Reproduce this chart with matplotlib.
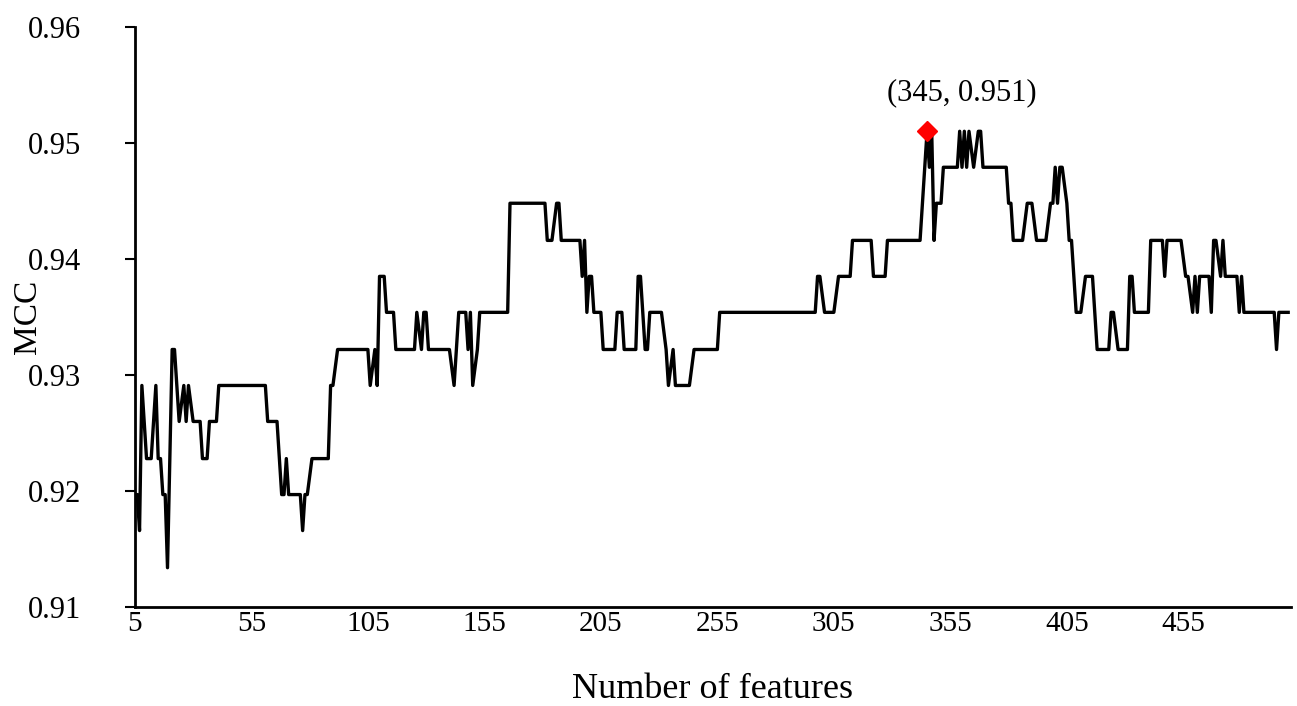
import matplotlib as mpl
mpl.use('Agg')
import matplotlib.pyplot as plt
import numpy as np

# MCC levels seen in the curve
m0, m1, m2, m3 = 0.9134, 0.9166, 0.9197, 0.9228
m4, m5, m6, m7 = 0.9260, 0.9291, 0.9322, 0.9354
m8, m9, m10, m11, m12 = 0.9385, 0.9416, 0.9448, 0.9479, 0.9510

# turning points of the curve (number of features, MCC)
features = [5, 6, 7, 8, 10, 12, 14, 15, 16, 17, 18, 19, 21, 22, 24, 26, 27, 28, 30, 33,
            34, 36, 37, 40, 41, 61, 62, 66, 68, 69, 70, 71, 76, 77, 78, 79, 81, 88, 89, 90,
            92, 105, 106, 108, 109, 110, 112, 113, 116, 117, 125, 126, 128, 129, 130, 131, 140, 142, 144, 147,
            148, 149, 150, 152, 153, 165, 166, 181, 182, 184, 186, 187, 188, 196, 197, 198, 199, 200, 201, 202,
            205, 206, 211, 212, 214, 215, 220, 221, 222, 224, 225, 226, 231, 233, 234, 236, 237, 243, 245, 255,
            256, 297, 298, 299, 301, 305, 307, 312, 313, 321, 322, 327, 328, 342, 345, 346, 347, 348, 349, 351,
            352, 358, 359, 360, 361, 362, 363, 365, 367, 368, 369, 379, 380, 381, 382, 386, 388, 390, 392, 396,
            398, 399, 400, 401, 402, 403, 405, 406, 407, 409, 411, 413, 416, 418, 423, 424, 425, 427, 431, 432,
            433, 434, 440, 441, 446, 447, 448, 454, 456, 457, 459, 460, 461, 462, 466, 467, 468, 469, 471, 472,
            473, 478, 479, 480, 481, 494, 495, 496, 500]
mcc = [m2, m2, m1, m5, m3, m3, m5, m3, m3, m2, m2, m0, m6, m6, m4, m5, m4, m5, m4, m4,
       m3, m3, m4, m4, m5, m5, m4, m4, m2, m2, m3, m2, m2, m1, m2, m2, m3, m3, m5, m5,
       m6, m6, m5, m6, m5, m8, m8, m7, m7, m6, m6, m7, m6, m7, m7, m6, m6, m5, m7, m7,
       m6, m7, m5, m6, m7, m7, m10, m10, m9, m9, m10, m10, m9, m9, m8, m9, m7, m8, m8, m7,
       m7, m6, m6, m7, m7, m6, m6, m8, m8, m6, m6, m7, m7, m6, m5, m6, m5, m5, m6, m6,
       m7, m7, m8, m8, m7, m7, m8, m8, m9, m9, m8, m8, m9, m9, m12, m11, m12, m9, m10, m10,
       m11, m11, m12, m11, m12, m11, m12, m11, m12, m12, m11, m11, m10, m10, m9, m9, m10, m10, m9, m9,
       m10, m10, m11, m10, m11, m11, m10, m9, m9, m7, m7, m8, m8, m6, m6, m7, m7, m6, m6, m8,
       m8, m7, m7, m9, m9, m8, m9, m9, m8, m8, m7, m8, m7, m8, m8, m7, m9, m9, m8, m9,
       m8, m8, m7, m8, m7, m7, m6, m7, m7]

best_x, best_y = 345, 0.951

plt.rcParams['font.family'] = ['Liberation Serif', 'DejaVu Serif']

fig = plt.figure(figsize=(12.97, 7.06), dpi=100)
ax = fig.add_axes([0.104, 0.14, 0.891, 0.822])

ax.plot(features, mcc, color='black', linewidth=2.4)
ax.plot([best_x], [best_y], marker='D', color='red', markersize=10, linestyle='none')
ax.annotate('(%d, %.3f)' % (best_x, best_y), xy=(best_x, best_y), xytext=(25, 28),
            textcoords='offset points', ha='center', va='center', fontsize=22)

ax.set_xlim(5, 501)
ax.set_ylim(0.91, 0.96)
ax.set_xticks(np.arange(5, 501, 50))
ax.set_yticks(np.arange(0.91, 0.9601, 0.01))
ax.yaxis.set_major_formatter(mpl.ticker.FormatStrFormatter('%.2f'))

ax.spines['top'].set_visible(False)
ax.spines['right'].set_visible(False)
ax.spines['left'].set_linewidth(2)
ax.spines['bottom'].set_linewidth(2)
ax.tick_params(axis='y', direction='out', length=7, width=1.5, labelsize=22, pad=32)
ax.tick_params(axis='x', length=0, labelsize=21, pad=3)

ax.set_xlabel('Number of features', fontsize=26, va='center')
ax.set_ylabel('MCC', fontsize=24, va='center')
ax.xaxis.set_label_coords(0.5, -0.142)
ax.yaxis.set_label_coords(-0.093, 0.5)

plt.savefig('out.png', dpi=100)
